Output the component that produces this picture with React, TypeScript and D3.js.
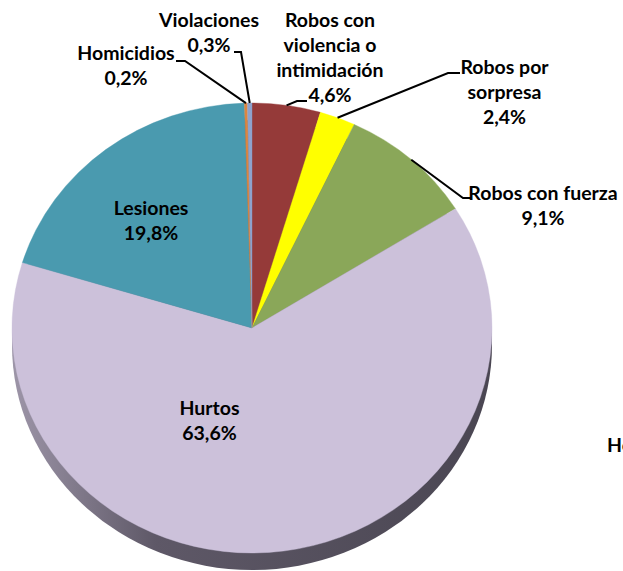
import React from "react";
import * as d3 from "d3";

const categories = [
  "Robos con violencia o intimidación",
  "Robos por sorpresa",
  "Robos con fuerza",
  "Hurtos",
  "Lesiones",
  "Homicidios",
  "Violaciones",
];
const values = [4.6, 2.4, 9.1, 63.6, 19.8, 0.2, 0.3];
const valueLabels = ["4,6%", "2,4%", "9,1%", "63,6%", "19,8%", "0,2%", "0,3%"];
const nameLines = [
  ["Robos con", "violencia o", "intimidación"],
  ["Robos por", "sorpresa"],
  ["Robos con fuerza"],
  ["Hurtos"],
  ["Lesiones"],
  ["Homicidios"],
  ["Violaciones"],
];
const colors = ["#953a39", "#ffff00", "#8aa759", "#ccc1da", "#4a9aaf", "#dc8640", "#8fa2cd"];

// label layout: center x, first baseline, optional leader elbow [x,y] and end x
const labelLayout: { cx: number; y: number; elbow?: [number, number]; endX?: number }[] = [
  { cx: 330, y: 27, elbow: [297, 101], endX: 307 },
  { cx: 504.5, y: 74, elbow: [448, 73], endX: 460 },
  { cx: 543, y: 200, elbow: [463, 198], endX: 471 },
  { cx: 209.5, y: 415 },
  { cx: 151, y: 215 },
  { cx: 126, y: 60, elbow: [185, 61], endX: 176 },
  { cx: 209, y: 27, elbow: [241, 52], endX: 234 },
];

const W = 623;
const H = 571;
const cx = 252;
const cy = 328;
const rx = 240;
const ry = 225;
const depth = 17;
const lineH = 25;
const fontSize = 19.5;

export default function App() {
  const pie = d3.pie<number>().sort(null).value((d) => d);
  const arcs = pie(values);
  const arc = d3.arc<d3.PieArcDatum<number>>().innerRadius(0).outerRadius(rx);
  const sy = ry / rx;

  const edgePoint = (a: d3.PieArcDatum<number>): [number, number] => {
    const m = (a.startAngle + a.endAngle) / 2;
    return [cx + rx * Math.sin(m), cy - ry * Math.cos(m)];
  };

  return (
    <svg
      width={W}
      height={H}
      style={{ position: "absolute", left: 0, top: 0, background: "#fff" }}
      fontFamily="Lato, 'Open Sans', sans-serif"
      fontWeight={700}
    >
      <defs>
        <linearGradient id="side" x1={cx - rx} x2={cx + rx} y1={0} y2={0} gradientUnits="userSpaceOnUse">
          <stop offset="0" stopColor="#9d95a8" />
          <stop offset="0.3" stopColor="#5e5867" />
          <stop offset="1" stopColor="#4a4652" />
        </linearGradient>
      </defs>
      <ellipse cx={cx} cy={cy + depth} rx={rx} ry={ry} fill="url(#side)" />
      <g transform={`translate(${cx},${cy}) scale(1,${sy})`}>
        {arcs.map((a, i) => (
          <path key={categories[i]} d={arc(a) || ""} fill={colors[i]} stroke={colors[i]} strokeWidth={0.4} />
        ))}
      </g>
      {arcs.map((a, i) => {
        const L = labelLayout[i];
        if (!L.elbow) return null;
        const p = edgePoint(a);
        const pts: [number, number][] = [p, L.elbow, [L.endX as number, L.elbow[1]]];
        return (
          <path
            key={"l" + i}
            d={d3.line()(pts) || ""}
            fill="none"
            stroke="#000"
            strokeWidth={2}
          />
        );
      })}
      {arcs.map((a, i) => {
        const L = labelLayout[i];
        const lines = [...nameLines[i], valueLabels[i]];
        return (
          <text key={"t" + i} textAnchor="middle" fontSize={fontSize} fill="#000">
            {lines.map((s, k) => (
              <tspan key={k} x={L.cx} y={L.y + k * lineH}>
                {s}
              </tspan>
            ))}
          </text>
        );
      })}
      <text x={607} y={452} fontSize={fontSize} fill="#000">
        Homicidios
      </text>
    </svg>
  );
}
